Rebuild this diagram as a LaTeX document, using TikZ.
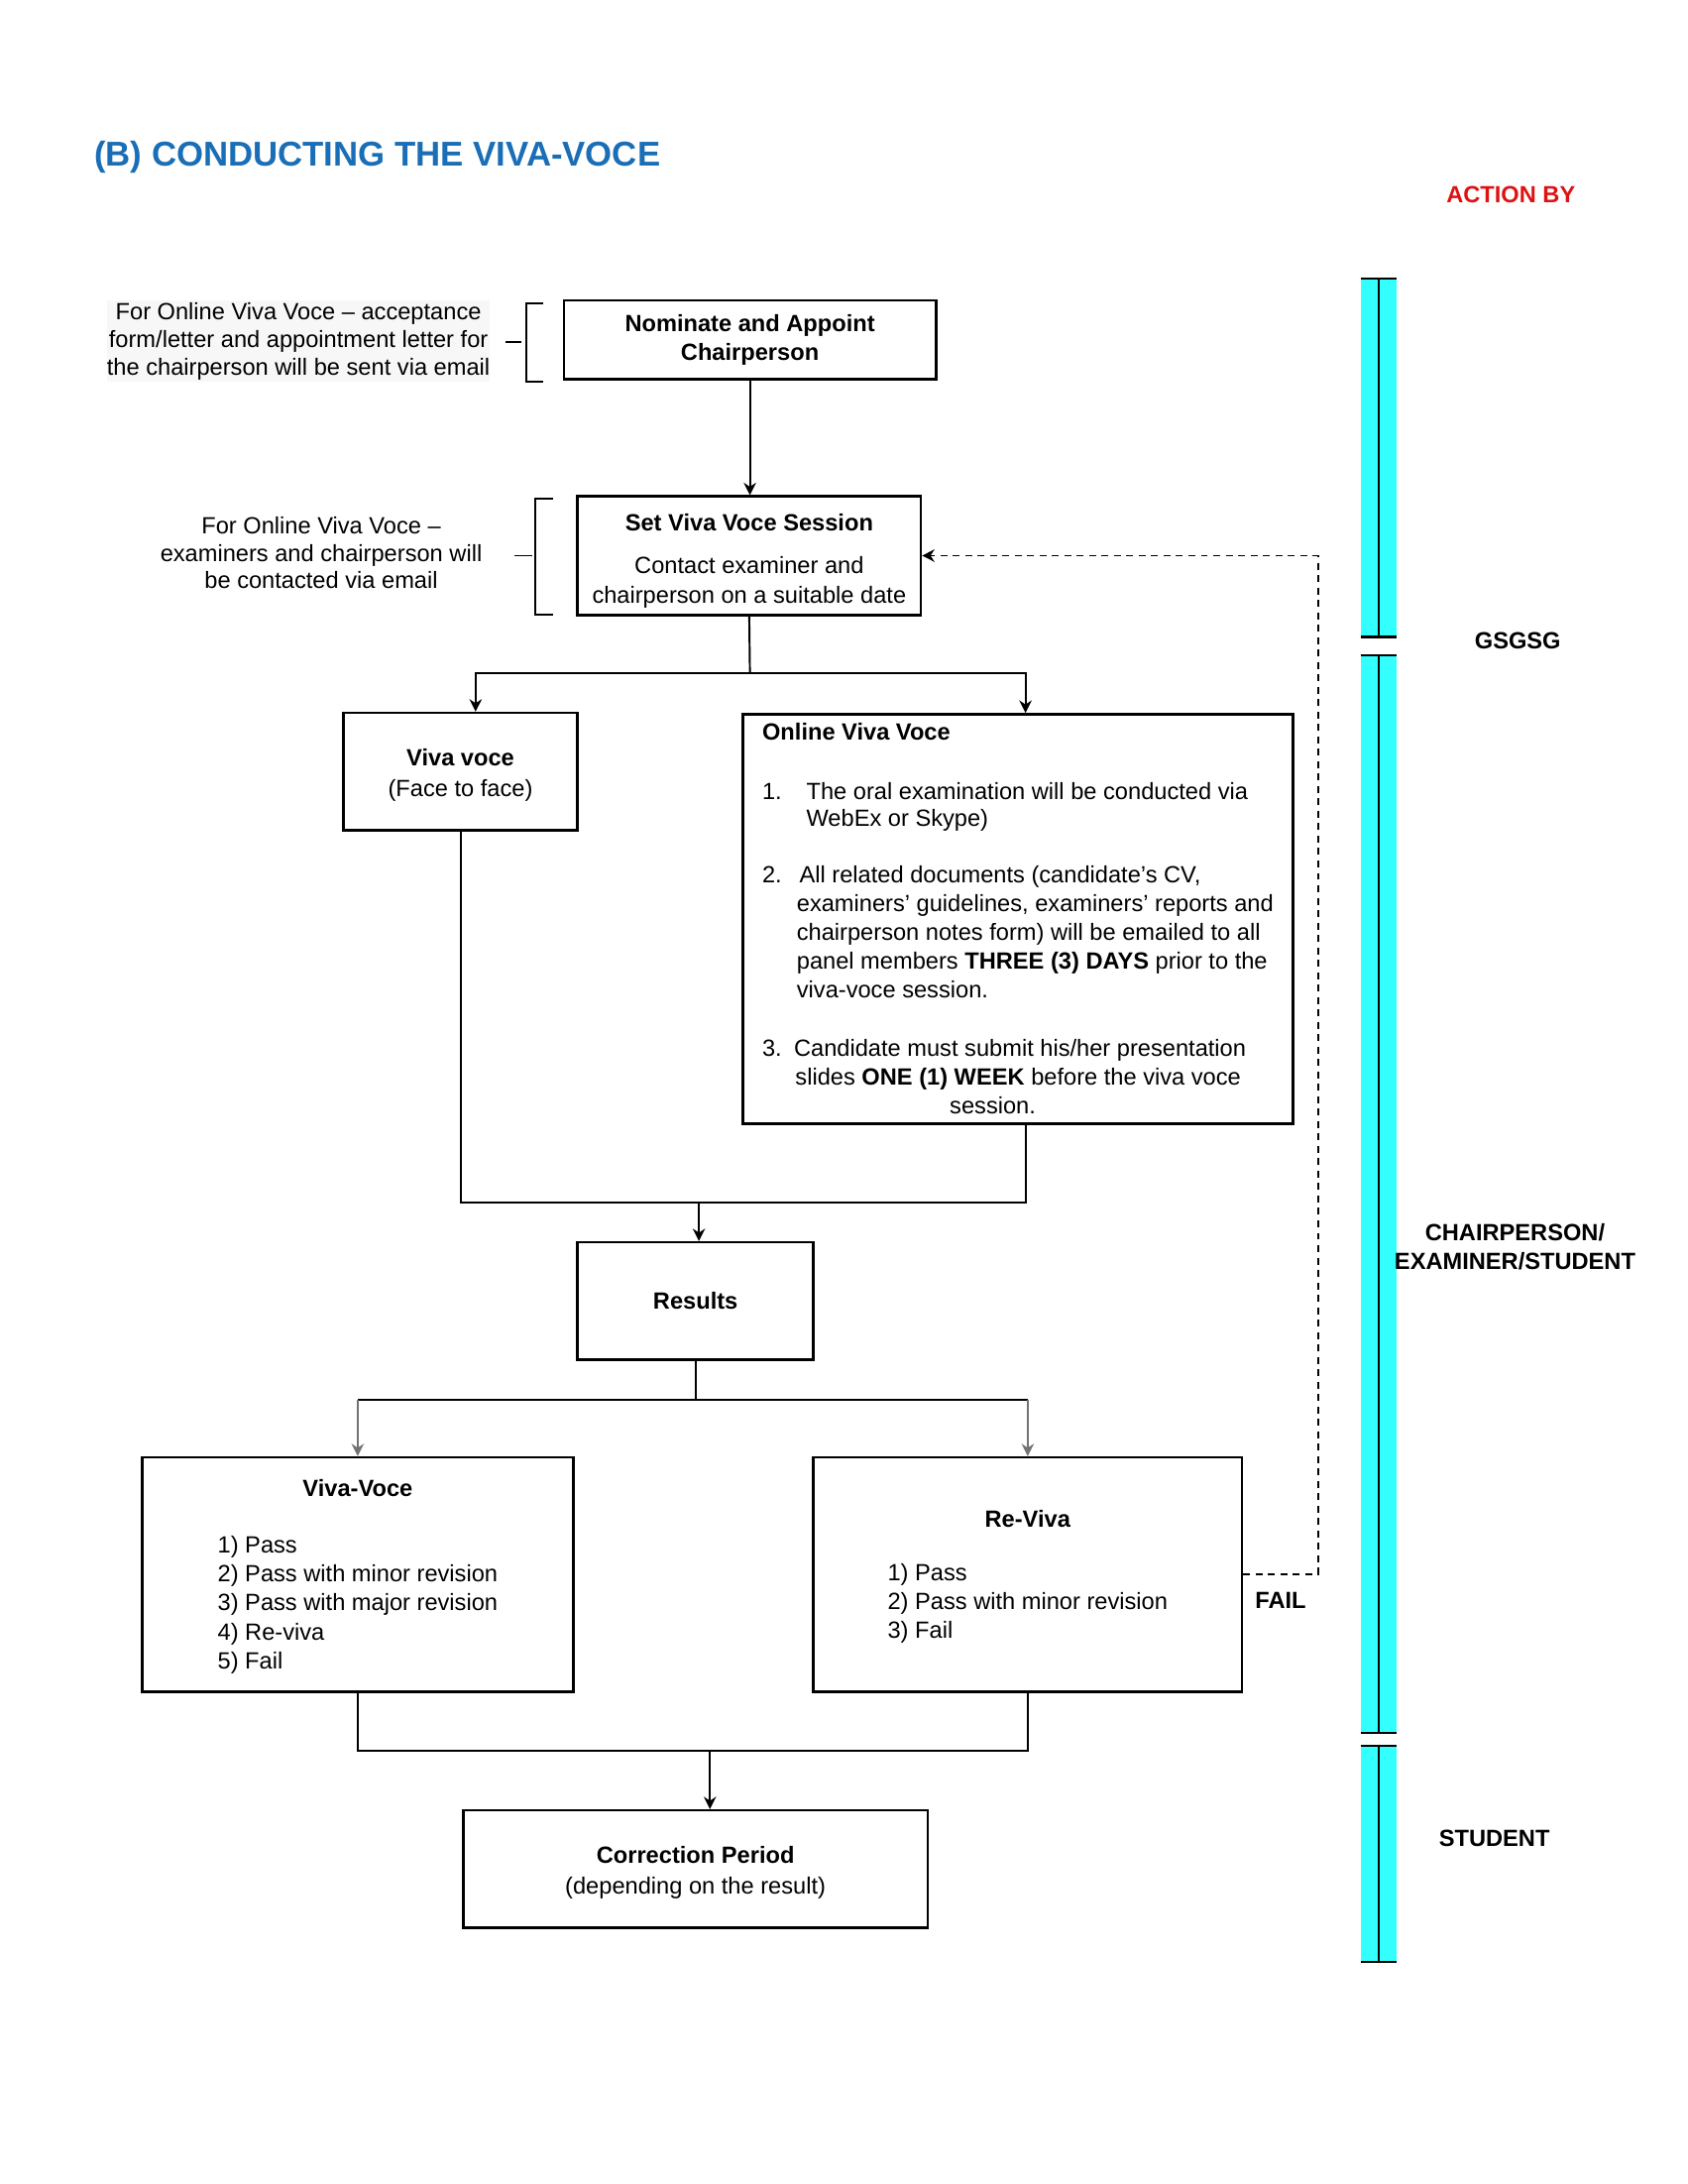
\documentclass[tikz,border=0pt]{standalone}
\usepackage{fontspec}
\setmainfont{Liberation Sans}
\usetikzlibrary{arrows.meta,calc,positioning}
\definecolor{TitleBlue}{RGB}{26,110,182}
\definecolor{ActionRed}{RGB}{222,18,18}
\definecolor{BarCyan}{RGB}{51,255,255}

\begin{document}
\begin{tikzpicture}[x=0.5pt, y=-0.5pt,
  box/.style={draw, line width=0.9pt, inner sep=2pt, align=center, font=\fontsize{8.5}{10.5}\selectfont},
  note/.style={align=center, inner sep=0pt, font=\fontsize{8.5}{10}\selectfont},
  who/.style={align=center, inner sep=0pt, font=\bfseries\fontsize{8.5}{10.5}\selectfont},
  link/.style={line width=0.7pt},
  arr/.style={link, -{Stealth[length=4.5pt, width=4.5pt]}},
  greyarr/.style={arr, black!55}]

% page
\useasboundingbox (0,0) rectangle (1224,1584);

% heading
\node[anchor=west, inner sep=0pt, text=TitleBlue, font=\bfseries\fontsize{12.5}{15}\selectfont] (title) at (68,114) {(B) CONDUCTING THE VIVA-VOCE};
\node[who, text=ActionRed] (actionby) at (1096,141) {ACTION BY};

% side notes
\node[note, fill=black!3, minimum width=138.5pt, minimum height=29.5pt] (noteappoint) at (216.5,247.5) {For Online Viva Voce – acceptance\\form/letter and appointment letter for\\the chairperson will be sent via email};
\node[note] (notecontact) at (233,401) {For Online Viva Voce –\\examiners and chairperson will\\be contacted via email};

% brackets
\draw[link] (394,220) -- (382,220) -- (382,277) -- (394,277);
\draw[link] (367,248) -- (378,248);
\draw[link] (401,362) -- (388,362) -- (388,446) -- (401,446);
\draw[link] (373,403) -- (386,403);

% flow boxes
\node[box, minimum width=135pt, minimum height=28.5pt] (nominate) at (544,246.5) {\textbf{Nominate and Appoint}\\\textbf{Chairperson}};
\node[box, inner ysep=0pt, minimum width=124.5pt, minimum height=43pt] (setviva) at (543.5,403) {\rule{0pt}{10pt}\textbf{Set Viva Voce Session}\\[5pt]Contact examiner and\\chairperson on a suitable date};
\node[box, minimum width=85pt, minimum height=42.5pt] (facetoface) at (334,559.5) {\rule{0pt}{9pt}\textbf{Viva voce}\\[0.5pt](Face to face)};
\node[box, anchor=north west, align=left, minimum width=199.5pt, minimum height=148.5pt] (online) at (538,517) {%
\textbf{Online Viva Voce}\\[11pt]
\makebox[16pt][l]{1.}The oral examination will be conducted  via\\[-1pt]
\hspace*{16pt}WebEx or Skype)\\[10pt]
\makebox[13.5pt][l]{2.}All related documents (candidate’s CV,\\
\hspace*{12.5pt}examiners’ guidelines, examiners’ reports and\\
\hspace*{12.5pt}chairperson notes form) will be emailed to all\\
\hspace*{12.5pt}panel members \textbf{THREE (3) DAYS} prior to the\\
\hspace*{12.5pt}viva-voce session.\\[10.5pt]
\makebox[11.5pt][l]{3.}Candidate must submit his/her presentation\\
\hspace*{12pt}slides \textbf{ONE (1) WEEK} before the viva voce\\
\hspace*{68pt}session.};
\node[box, minimum width=85.5pt, minimum height=42.5pt] (results) at (504.5,943.5) {\textbf{Results}};
\node[box, minimum width=156.5pt, minimum height=85pt] (vivaresult) at (259.5,1142) {\rule{0pt}{9pt}\textbf{Viva-Voce}\\[10pt]\begin{tabular}[t]{@{}l@{}}1) Pass\\2) Pass with minor revision\\3) Pass with major revision\\4) Re-viva\\5) Fail\end{tabular}};
\node[box, minimum width=155.5pt, minimum height=85pt] (revivaresult) at (745.5,1142) {\rule{0pt}{9pt}\textbf{Re-Viva}\\[9pt]\begin{tabular}[t]{@{}l@{}}1) Pass\\2) Pass with minor revision\\3) Fail\end{tabular}};
\node[box, minimum width=168.5pt, minimum height=42.5pt] (correction) at (504.5,1355.5) {\rule{0pt}{9pt}\textbf{Correction Period}\\[0.5pt](depending on the result)};

% turning points
\coordinate (split1) at (544,488);
\coordinate (merge1) at (507,872);
\coordinate (split2) at (504.5,1015);
\coordinate (merge2) at (515,1270);
\coordinate (failturn) at (956,1142);

% connectors
\draw[arr] (nominate.south) -- (nominate.south |- setviva.north);
\draw[link] (setviva.south) -- (split1);
\draw[arr] (split1) -| ([xshift=5.5pt]facetoface.north);
\draw[arr] (split1) -| ([xshift=2.75pt]online.north);
\draw[link] (facetoface.south) |- (merge1);
\draw[link] (merge1) -| ([xshift=2.75pt]online.south);
\draw[arr] (merge1) -- (merge1 |- results.north);
\draw[link] (results.south) -- (split2);
\draw[link] (vivaresult.north |- split2) -- (revivaresult.north |- split2);
\draw[greyarr] (vivaresult.north |- split2) -- (vivaresult.north);
\draw[greyarr] (revivaresult.north |- split2) -- (revivaresult.north);
\draw[link] (vivaresult.south) |- (merge2) -| (revivaresult.south);
\draw[arr] (merge2) -- (merge2 |- correction.north);

% fail loop
\draw[arr, dash pattern=on 2.5pt off 2pt] (revivaresult.east) -- (failturn) |- (setviva.east);
\node[who] (fail) at (929,1161) {FAIL};

% action by bar
\foreach \ytop/\ybot in {202/462, 475/1257, 1266/1423}{
  \fill[BarCyan] (987,\ytop) rectangle (1013,\ybot);
  \draw[line width=0.8pt] (987,\ytop) -- (1013,\ytop) (987,\ybot) -- (1013,\ybot) (1000,\ytop) -- (1000,\ybot);
}
\node[who] (gsgsg) at (1101,465) {GSGSG};
\node[who] (panel) at (1099,904) {CHAIRPERSON/\\EXAMINER/STUDENT};
\node[who] (student) at (1084,1333) {STUDENT};
\end{tikzpicture}
\end{document}
